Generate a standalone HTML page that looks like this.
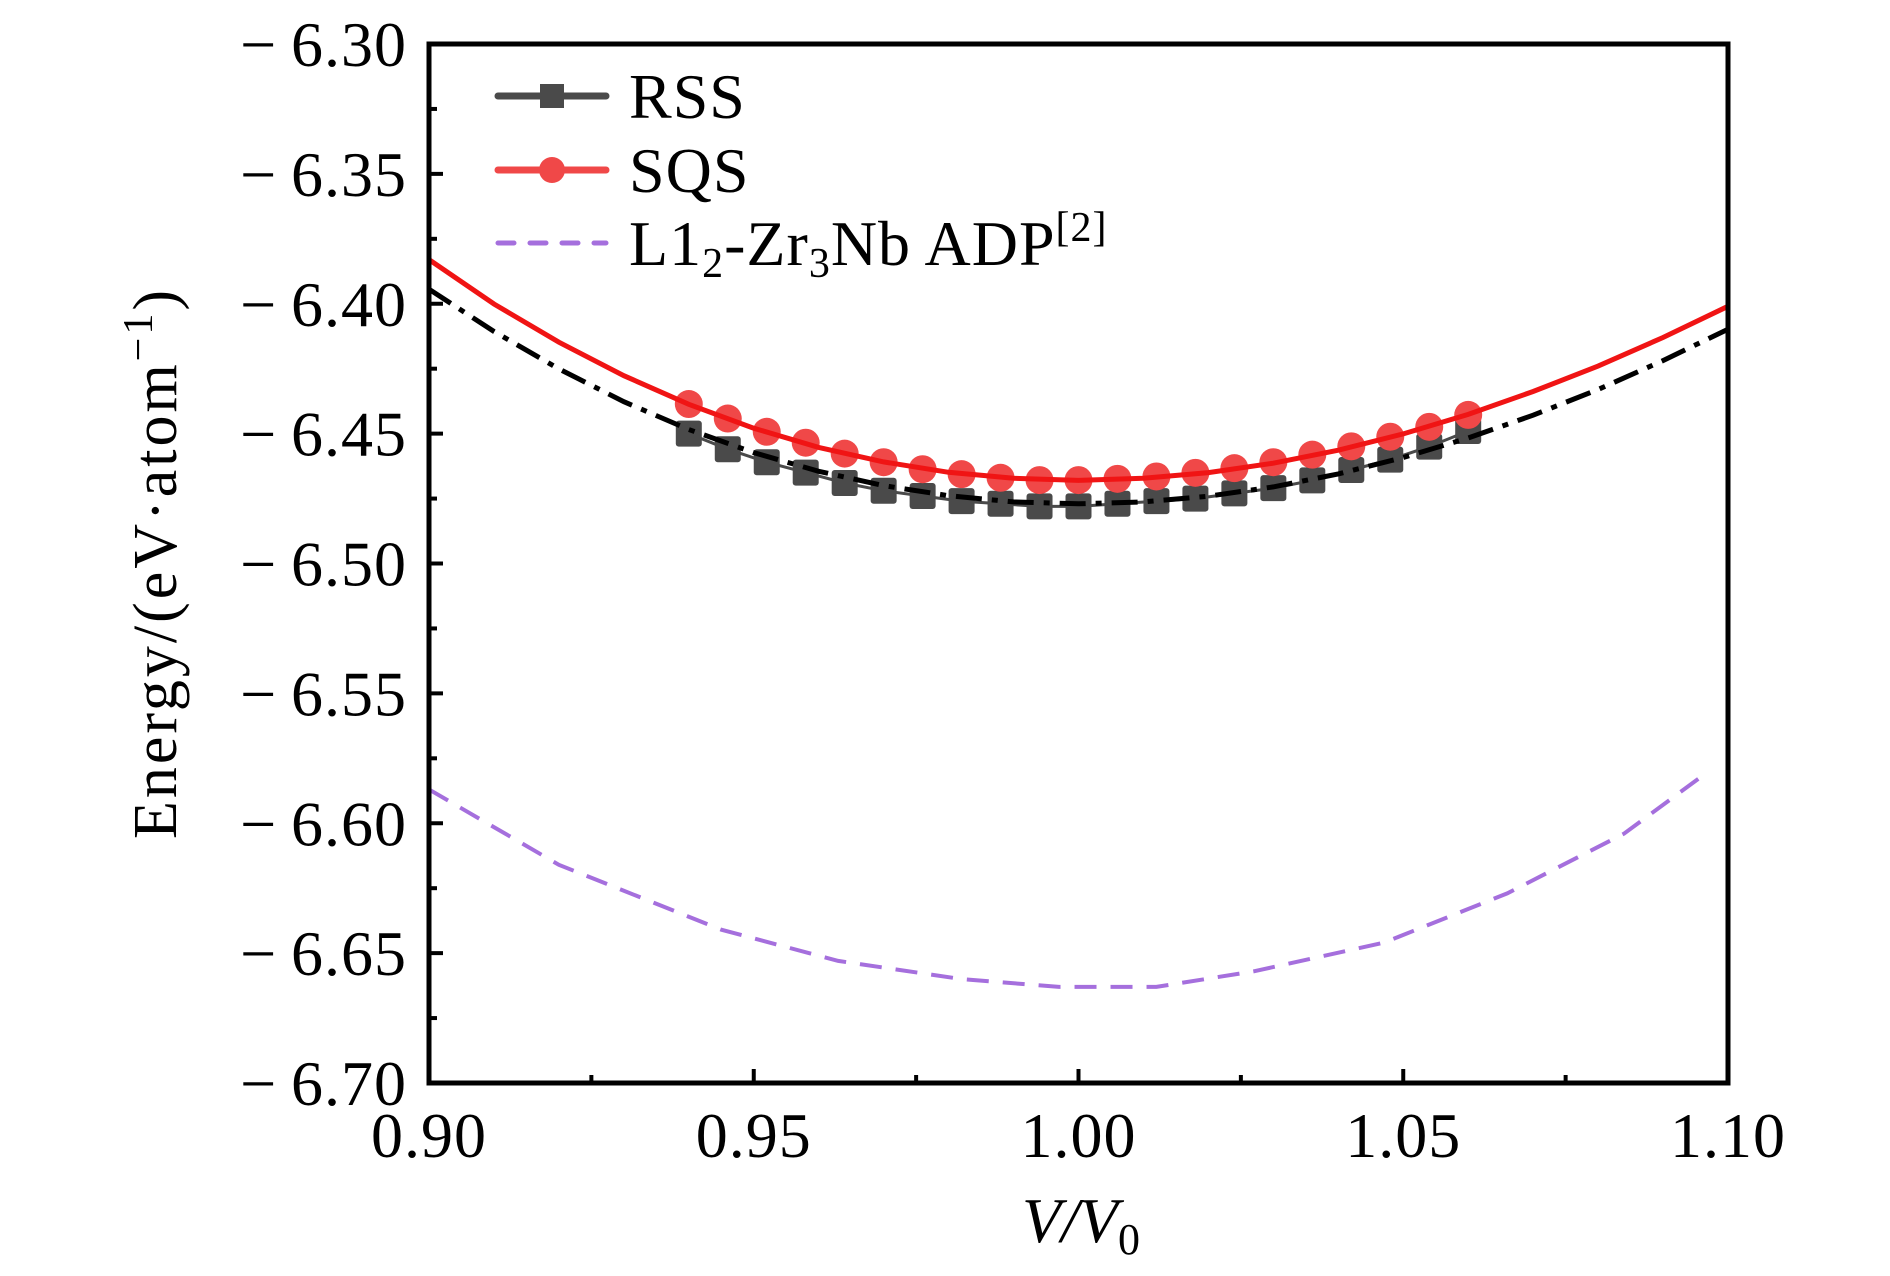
<!DOCTYPE html>
<html><head><meta charset="utf-8"><style>
html,body{margin:0;padding:0;background:#fff;}
svg{display:block;font-family:"Liberation Serif",serif;}
</style></head><body>
<svg id="chart" width="1890" height="1276" viewBox="0 0 1890 1276">
<g id="plot"></g>
</svg>
<script>
const pointX = [0.940,0.946,0.952,0.958,0.964,0.970,0.976,0.982,0.988,0.994,1.000,1.006,1.012,1.018,1.024,1.030,1.036,1.042,1.048,1.054,1.060];
const rssValues = [-6.450,-6.456,-6.461,-6.465,-6.469,-6.472,-6.474,-6.476,-6.477,-6.478,-6.478,-6.477,-6.476,-6.475,-6.473,-6.471,-6.468,-6.464,-6.460,-6.455,-6.449];
const sqsValues = [-6.4386,-6.4442,-6.4493,-6.4535,-6.4577,-6.4610,-6.4637,-6.4656,-6.4670,-6.4679,-6.4679,-6.4674,-6.4665,-6.4651,-6.4633,-6.4610,-6.4581,-6.4549,-6.4512,-6.4474,-6.4428];
const fitX = [0.90,0.91,0.92,0.93,0.94,0.95,0.96,0.97,0.98,0.99,1.00,1.01,1.02,1.03,1.04,1.05,1.06,1.07,1.08,1.09,1.10];
const sqsFit = [-6.383,-6.4001,-6.4148,-6.4277,-6.4387,-6.4479,-6.4553,-6.4609,-6.4649,-6.4672,-6.468,-6.4672,-6.4650,-6.4614,-6.4564,-6.4501,-6.4426,-6.4338,-6.4240,-6.4130,-6.401];
const rssFit = [-6.3944,-6.4107,-6.4251,-6.4377,-6.4484,-6.4573,-6.4645,-6.4700,-6.4739,-6.4763,-6.477,-6.4763,-6.4741,-6.4705,-6.4655,-6.4592,-6.4517,-6.4429,-6.4330,-6.4219,-6.4098];
const adpX = [0.900,0.920,0.945,0.963,0.982,0.997,1.012,1.027,1.047,1.066,1.084,1.097];
const adpValues = [-6.587,-6.616,-6.641,-6.653,-6.660,-6.663,-6.663,-6.657,-6.646,-6.627,-6.604,-6.580];
const xTicks = [0.90,0.95,1.00,1.05,1.10];
const xTickLabels = ["0.90","0.95","1.00","1.05","1.10"];
const yTicks = [-6.30,-6.35,-6.40,-6.45,-6.50,-6.55,-6.60,-6.65,-6.70];
const yTickLabels = ["\u2212\u20096.30","\u2212\u20096.35","\u2212\u20096.40","\u2212\u20096.45","\u2212\u20096.50","\u2212\u20096.55","\u2212\u20096.60","\u2212\u20096.65","\u2212\u20096.70"];

const L=429,R=1728,T=44,B=1083;
const xMin=0.90,xMax=1.10,yMax=-6.30,yMin=-6.70;
function sx(v){return L+(v-xMin)/(xMax-xMin)*(R-L);}
function sy(v){return T+(yMax-v)/(yMax-yMin)*(B-T);}
const NS="http://www.w3.org/2000/svg";
const g=document.getElementById('plot');
function mk(tag,attrs,parent){const e=document.createElementNS(NS,tag);for(const k in attrs)e.setAttribute(k,attrs[k]);(parent||g).appendChild(e);return e;}
function pathFrom(xs,ys){return xs.map((x,i)=>(i?'L':'M')+sx(x).toFixed(1)+','+sy(ys[i]).toFixed(1)).join(' ');}

const defs=mk('defs',{});
const cp=mk('clipPath',{id:'clip'},defs);
mk('rect',{x:L,y:T,width:R-L,height:B-T},cp);

yTicks.forEach((v,i)=>{
  const t=mk('line',{x1:L,x2:L+14,y1:sy(v),y2:sy(v),stroke:'#000','stroke-width':4});
  
  
  if(i<yTicks.length-1){const m=(v+yTicks[i+1])/2;
    const mt=mk('line',{x1:L,x2:L+8,y1:sy(m),y2:sy(m),stroke:'#000','stroke-width':4});
    
    }
  const lb=mk('text',{x:407,y:sy(v)+22,'text-anchor':'end','font-size':64,'letter-spacing':1});
  lb.textContent=yTickLabels[i];
  
  
});
xTicks.forEach((v,i)=>{
  const t=mk('line',{x1:sx(v),x2:sx(v),y1:B,y2:B-14,stroke:'#000','stroke-width':4});
  
  
  if(i<xTicks.length-1){const m=(v+xTicks[i+1])/2;
    const mt=mk('line',{x1:sx(m),x2:sx(m),y1:B,y2:B-8,stroke:'#000','stroke-width':4});
    
    }
  const lb=mk('text',{x:sx(v),y:1157,'text-anchor':'middle','font-size':64,'letter-spacing':1});
  lb.textContent=xTickLabels[i];
  
  
});

const cg=mk('g',{'clip-path':'url(#clip)'});


const adp=mk('path',{d:pathFrom(adpX,adpValues),fill:'none',stroke:'#a56fdd','stroke-width':4,'stroke-dasharray':'22,14'},cg);


const rl=mk('path',{d:pathFrom(pointX,rssValues),fill:'none',stroke:'#4a4a4a','stroke-width':3},cg);


pointX.forEach((x,i)=>{
  const s=mk('rect',{x:sx(x)-13,y:sy(rssValues[i])-13,width:26,height:26,rx:3,fill:'#4a4a4a'},cg);
  
  
});
pointX.forEach((x,i)=>{
  const c=mk('circle',{cx:sx(x),cy:sy(sqsValues[i]),r:14,fill:'#f04848'},cg);
  
  
});
const rf=mk('path',{d:pathFrom(fitX,rssFit),fill:'none',stroke:'#000','stroke-width':5,'stroke-dasharray':'26,10,6,10'},cg);


const sf=mk('path',{d:pathFrom(fitX,sqsFit),fill:'none',stroke:'#f01414','stroke-width':5},cg);



const fr=mk('rect',{x:L,y:T,width:R-L,height:B-T,fill:'none',stroke:'#000','stroke-width':5});


</script>
<div style="position:absolute;left:0;top:0;width:1890px;height:1276px;pointer-events:none;">
<svg width="1890" height="1276" style="font-family:'Liberation Serif',serif;">
  <g>
    <g>
      <line x1="498" y1="96" x2="606" y2="96" stroke="#4a4a4a" stroke-width="7" stroke-linecap="round"/>
      <rect x="540" y="84" width="24" height="24" fill="#4a4a4a"/>
      <text x="629" y="118" font-size="64" letter-spacing="1">RSS</text>
    </g>
    <g>
      <line x1="498" y1="170" x2="606" y2="170" stroke="#f04848" stroke-width="7" stroke-linecap="round"/>
      <circle cx="552" cy="170" r="13" fill="#f04848"/>
      <text x="629" y="192" font-size="64" letter-spacing="1">SQS</text>
    </g>
    <g>
      <line x1="498" y1="243" x2="606" y2="243" stroke="#a56fdd" stroke-width="5" stroke-dasharray="16,16" stroke-linecap="round"/>
      <text x="629" y="265" font-size="64" letter-spacing="1">L1<tspan font-size="42" dy="12">2</tspan><tspan dy="-12">-Zr</tspan><tspan font-size="42" dy="12">3</tspan><tspan dy="-12">Nb ADP</tspan><tspan font-size="42" dy="-24">[2]</tspan></text>
    </g>
  </g>
  <text transform="translate(176,563) rotate(-90)" text-anchor="middle" font-size="62" letter-spacing="3">Energy/(eV·atom<tspan font-size="42" dy="-24">−1</tspan><tspan dy="24">)</tspan></text>
  <text x="1081" y="1242" text-anchor="middle" font-size="64" font-style="italic">V/V<tspan font-size="44" dy="12" font-style="normal">0</tspan></text>
</svg>
</div>
</body></html>
